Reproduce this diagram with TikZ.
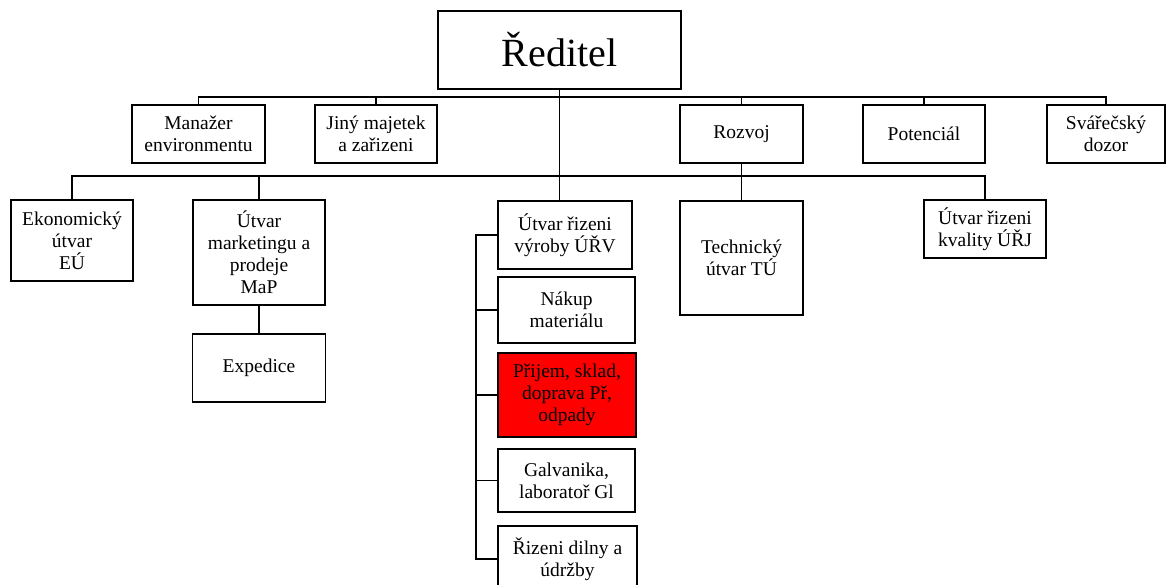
\documentclass[tikz,border=0pt]{standalone}
\usepackage{fontspec}
\setmainfont{Liberation Serif}
\tikzset{
	unit/.style={draw, line width=1.8pt, align=center, inner sep=0pt, font=\fontsize{19.5}{22}\selectfont},
	link/.style={line width=1.6pt},
}
\begin{document}
\begin{tikzpicture}[x=1pt,y=-1pt]
		\useasboundingbox (0,0) rectangle (1166,584);
		\node[unit, minimum width=243pt, minimum height=78pt, font=\fontsize{40}{44}\selectfont] (reditel) at (559.5,50) {Ředitel};
		
		\node[unit, minimum width=133pt, minimum height=58pt] (manazer) at (198.5,134) {Manažer\\environmentu};
		\node[unit, minimum width=122pt, minimum height=58pt] (jiny) at (376,134) {Jiný majetek\\a zařizeni};
		\node[unit, minimum width=123pt, minimum height=58pt] (rozvoj) at (741.5,134) {Rozvoj};
		\node[unit, minimum width=122pt, minimum height=58pt] (potencial) at (924,134) {Potenciál};
		\node[unit, minimum width=118pt, minimum height=58pt] (svar) at (1106,134) {Svářečský\\dozor};
		
		\node[unit, minimum width=122pt, minimum height=81pt] (ekon) at (72,240.5) {Ekonomický\\útvar\\EÚ};
		\node[unit, minimum width=132pt, minimum height=105pt] (map) at (259,252.5) {Útvar\\marketingu a\\prodeje\\MaP};
		\node[unit, minimum width=133pt, minimum height=68pt] (exped) at (259,368) {Expedice};
		\node[unit, minimum width=123pt, minimum height=114pt] (tech) at (741.5,258) {Technický\\útvar TÚ};
		\node[unit, minimum width=122pt, minimum height=58pt] (urj) at (985,229) {Útvar řizeni\\kvality ÚŘJ};
		
		\node[unit, minimum width=134pt, minimum height=68pt] (urv) at (565,235) {Útvar řizeni\\výroby ÚŘV};
		\node[unit, minimum width=137pt, minimum height=66pt] (nakup) at (566.5,310) {Nákup\\materiálu};
		\node[unit, minimum width=138pt, minimum height=84pt, fill=red] (prijem) at (567,395) {Přijem, sklad,\\doprava Př,\\odpady};
		\node[unit, minimum width=137pt, minimum height=63pt] (galv) at (566.5,480.5) {Galvanika,\\laboratoř Gl};
		\node[unit, minimum width=139pt, minimum height=66pt] (rizeni) at (567.5,559) {Řizeni dilny a\\údržby};
		
		\coordinate (bus1) at (559.5,97);
		\coordinate (bus2) at (559.5,176);
		\coordinate (spine) at (476,235);
		
		\draw[link] (reditel.south) -- (reditel.south |- urv.north);
		\draw[link] (manazer.north) |- (bus1) -| (svar.north);
		\draw[link] (jiny.north) -- (jiny.north |- bus1);
		\draw[link] (rozvoj.north) -- (rozvoj.north |- bus1);
		\draw[link] (potencial.north) -- (potencial.north |- bus1);
		
		\draw[link] (ekon.north) |- (bus2) -| (urj.north);
		\draw[link] (map.north) -- (map.north |- bus2);
		\draw[link] (rozvoj.south) -- (tech.north);
		\draw[link] (map.south) -- (exped.north);
		
		\draw[link] (urv.west) -- (spine) |- (rizeni.west);
		\draw[link] (nakup.west) -- (nakup.west -| spine);
		\draw[link] (prijem.west) -- (prijem.west -| spine);
		\draw[link] (galv.west) -- (galv.west -| spine);
\end{tikzpicture}
\end{document}
